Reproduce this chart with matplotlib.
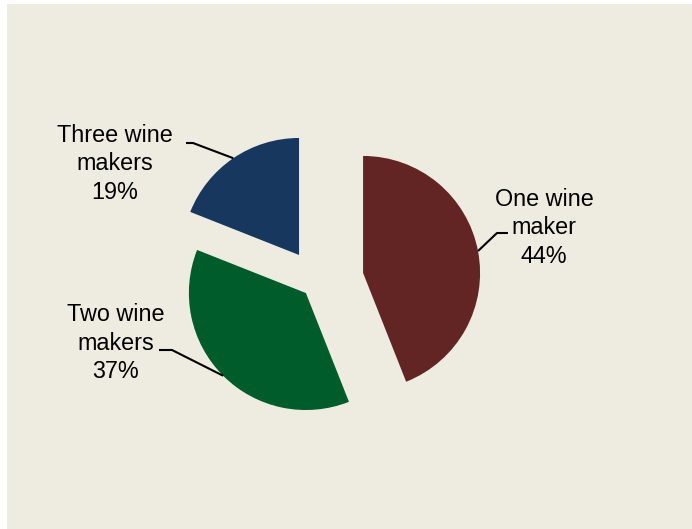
import numpy as np
import matplotlib.pyplot as plt
from matplotlib.patches import Rectangle

plt.rcParams['font.family'] = ['Liberation Sans', 'DejaVu Sans']

labels = ['One wine\nmaker', 'Two wine\nmakers', 'Three wine\nmakers']
shares = [44, 37, 19]
colors = ['#632523', '#005C2B', '#17375E']
explode = [46.7, 16.0, 32.3]  # offset of each slice, px

W, H = 692, 529  # canvas in px, y measured upward
fig = plt.figure(figsize=(W / 100, H / 100), dpi=100)
ax = fig.add_axes([0, 0, 1, 1])

# beige panel leaves a thin white strip on the left and top
ax.add_patch(Rectangle((7, 0), W - 7, H - 4, facecolor='#EEECE1',
                       edgecolor='none', zorder=0))

wedges, _ = ax.pie(shares, explode=explode, colors=colors, startangle=90,
                   counterclock=False, radius=117, center=(317.2, H - 281.7),
                   wedgeprops=dict(linewidth=0), frame=True)
ax.set_xlim(0, W)
ax.set_ylim(0, H)
ax.axis('off')

# label centres and leader elbows (px from top-left)
text_pos = [(544, 227), (116, 342), (115, 163)]
elbows = [[(508, 233), (497, 233)],
          [(159, 350), (172, 350)],
          [(186, 143), (193, 143)]]

for w, lab, val, tp, elb in zip(wedges, labels, shares, text_pos, elbows):
    mid = np.deg2rad((w.theta1 + w.theta2) / 2)
    ax_, ay_ = w.center[0] + w.r * np.cos(mid), w.center[1] + w.r * np.sin(mid)
    xs = [p[0] for p in elb] + [ax_]
    ys = [H - p[1] for p in elb] + [ay_]
    ax.plot(xs, ys, color='black', lw=1.5, solid_capstyle='butt', zorder=3)
    ax.text(tp[0], H - tp[1] - 1, f'{lab}\n{val}%', ha='center', va='center',
            fontsize=16.8, linespacing=1.28, color='black')

fig.savefig('out.png', dpi=100)
